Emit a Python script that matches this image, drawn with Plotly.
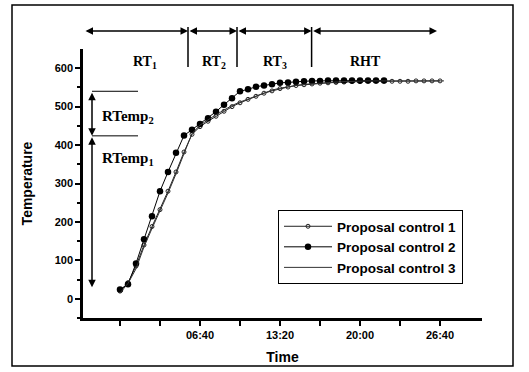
import plotly.graph_objects as go

# ---------------- data ----------------
time_s1 = [0, 40, 80, 120, 160, 200, 240, 280, 320, 360, 400, 440, 480, 520, 560, 600,
           640, 680, 720, 760, 800, 840, 880, 920, 960, 1000, 1040, 1080, 1120, 1160,
           1200, 1240, 1280, 1320, 1360, 1400, 1440, 1480, 1520, 1560, 1600]
temp_s1 = [20, 42, 85, 140, 188, 232, 280, 330, 382, 428, 448, 462, 475, 488, 500, 510,
           519, 527, 535, 541, 547, 551, 555, 557, 559, 561, 562, 563, 564, 565,
           565, 566, 566, 566, 566, 566, 566, 567, 567, 567, 567]

time_s2 = [0, 40, 80, 120, 160, 200, 240, 280, 320, 360, 400, 440, 480, 520, 560, 600,
           640, 680, 720, 760, 800, 840, 880, 920, 960, 1000, 1040, 1080, 1120, 1160,
           1200, 1240, 1280, 1320]
temp_s2 = [24, 38, 92, 155, 215, 280, 330, 380, 425, 440, 455, 470, 487, 505, 522, 540,
           545, 552, 555, 558, 562, 563, 565, 566, 567, 567, 568, 568, 568, 568,
           568, 568, 568, 568]

time_s3 = [0, 40, 80, 120, 160, 200, 240, 280, 320, 360, 400, 440, 480, 520, 560, 600,
           640, 680, 720, 760, 800, 840, 880, 920, 960, 1000, 1040, 1080, 1120, 1160,
           1200, 1240, 1280, 1320, 1360, 1400, 1440, 1480, 1520, 1560, 1620]
temp_s3 = [15, 40, 78, 135, 183, 228, 275, 325, 378, 430, 452, 466, 479, 491, 503, 512,
           520, 528, 536, 543, 548, 552, 555, 558, 560, 562, 563, 564, 565, 566,
           566, 567, 567, 567, 567, 567, 567, 567, 567, 567, 567]

series_names = ["Proposal control 1", "Proposal control 2", "Proposal control 3"]

x_tick_vals = [400, 800, 1200, 1600]
x_tick_text = ["06:40", "13:20", "20:00", "26:40"]
x_minor_vals = [0, 200, 600, 1000, 1400]
y_tick_vals = [0, 100, 200, 300, 400, 500, 600]
y_tick_text = ["0", "100", "200", "300", "400", "500", "600"]
y_minor_vals = [-50, 50, 150, 250, 350, 450, 550]

# phase boundaries (time, s) for the RT / RHT bands
phase_bounds = [-180, 340, 585, 958, 1585]
phase_labels = ["RT<sub>1</sub>", "RT<sub>2</sub>", "RT<sub>3</sub>", "RHT"]
phase_label_x = [125, 470, 775, 1225]

# temperature ramp levels
ramp_levels = [30, 424, 540]
ramp_labels = ["RTemp<sub>1</sub>", "RTemp<sub>2</sub>"]
ramp_label_y = [364, 474]

# ---------------- layout geometry ----------------
W, H = 529, 372
ML, MR, MT, MB = 83, 47, 49, 54
PW, PH = W - ML - MR, H - MT - MB


def px_x(p):
    return (p - ML) / PW


def px_y(p):
    return (H - MB - p) / PH


fig = go.Figure()

fig.add_trace(go.Scatter(
    x=time_s1, y=temp_s1, name=series_names[0], mode="lines+markers",
    line=dict(color="#222222", width=1),
    marker=dict(symbol="circle-open", size=4, color="#222222", line=dict(width=1)),
))
fig.add_trace(go.Scatter(
    x=time_s2, y=temp_s2, name=series_names[1], mode="lines+markers",
    line=dict(color="black", width=1),
    marker=dict(symbol="circle", size=6.5, color="black"),
))
fig.add_trace(go.Scatter(
    x=time_s3, y=temp_s3, name=series_names[2], mode="lines",
    line=dict(color="#333333", width=1),
))

tick_font = dict(family="Liberation Sans", size=11, color="black", weight="bold")

fig.update_xaxes(
    range=[-185, 1810], tickmode="array", tickvals=x_tick_vals, ticktext=x_tick_text,
    showline=True, linecolor="black", linewidth=2.5, ticks="outside", ticklen=5,
    tickwidth=2, tickcolor="black", showgrid=False, zeroline=False, tickfont=tick_font,
    automargin=False,
    minor=dict(tickvals=x_minor_vals, ticks="outside", ticklen=5, tickwidth=2,
               tickcolor="black"),
    title=dict(text="Time", font=dict(family="Liberation Sans", size=14, color="black",
                                       weight="bold"), standoff=13),
)
fig.update_yaxes(
    range=[-50, 650], tickmode="array", tickvals=y_tick_vals, ticktext=y_tick_text,
    showline=True, linecolor="black", linewidth=2.5, ticks="outside", ticklen=5,
    tickwidth=2, tickcolor="black", showgrid=False, zeroline=False, tickfont=tick_font,
    automargin=False,
    minor=dict(tickvals=y_minor_vals, ticks="outside", ticklen=3, tickwidth=2,
               tickcolor="black"),
    title=dict(text="Temperature", font=dict(family="Liberation Sans", size=14,
                                              color="black", weight="bold"), standoff=19),
)

shapes = []
annotations = []

# outer frame
shapes.append(dict(type="rect", xref="paper", yref="paper",
                   x0=px_x(12), x1=px_x(513), y0=px_y(366), y1=px_y(5),
                   line=dict(color="black", width=1.5)))

# phase separators and arrows on top
y_arrow = px_y(31)
for b in phase_bounds[1:-1]:
    shapes.append(dict(type="line", xref="x", yref="paper", x0=b, x1=b,
                       y0=px_y(67), y1=px_y(27), line=dict(color="black", width=1.5)))
for i in range(len(phase_bounds) - 1):
    annotations.append(dict(
        x=phase_bounds[i + 1], y=y_arrow, xref="x", yref="paper",
        ax=phase_bounds[i], ay=0, axref="x", ayref="pixel",
        text="", showarrow=True, arrowside="end+start", arrowhead=2,
        arrowsize=1, arrowwidth=1.5, arrowcolor="black", standoff=0, startstandoff=0))
for lab, lx in zip(phase_labels, phase_label_x):
    annotations.append(dict(x=lx, y=px_y(52), xref="x", yref="paper", text=lab,
                            showarrow=False,
                            font=dict(family="Liberation Serif", size=14, color="black",
                                      weight="bold")))

# temperature ramp markers on the left
x_ramp = -140
for lv in ramp_levels[1:]:
    shapes.append(dict(type="line", xref="x", yref="y", x0=x_ramp, x1=90, y0=lv, y1=lv,
                       line=dict(color="black", width=1)))
for i in range(len(ramp_levels) - 1):
    annotations.append(dict(
        x=x_ramp, y=ramp_levels[i], xref="x", yref="y",
        ax=x_ramp, ay=ramp_levels[i + 1], axref="x", ayref="y",
        text="", showarrow=True, arrowside="end+start", arrowhead=2,
        arrowsize=1, arrowwidth=1.5, arrowcolor="black", standoff=0, startstandoff=0))
for lab, ly in zip(ramp_labels, ramp_label_y):
    annotations.append(dict(x=-100, y=ly, xref="x", yref="y", text=lab, showarrow=False,
                            xanchor="left",
                            font=dict(family="Liberation Serif", size=15, color="black",
                                      weight="bold")))

fig.update_layout(
    width=W, height=H, margin=dict(l=ML, r=MR, t=MT, b=MB, autoexpand=False),
    paper_bgcolor="white", plot_bgcolor="white",
    shapes=shapes, annotations=annotations,
    legend=dict(x=px_x(278), y=px_y(210), xanchor="left", yanchor="top",
                bordercolor="black", borderwidth=1, bgcolor="white",
                font=dict(family="Liberation Sans", size=13.5, color="black",
                          weight="bold"),
                itemwidth=48, tracegroupgap=0),
    showlegend=True,
)

fig.write_html("out.html",
               config={"displayModeBar": False},
               post_script="document.body.style.margin='0';"
                           "document.body.style.overflow='hidden';")
